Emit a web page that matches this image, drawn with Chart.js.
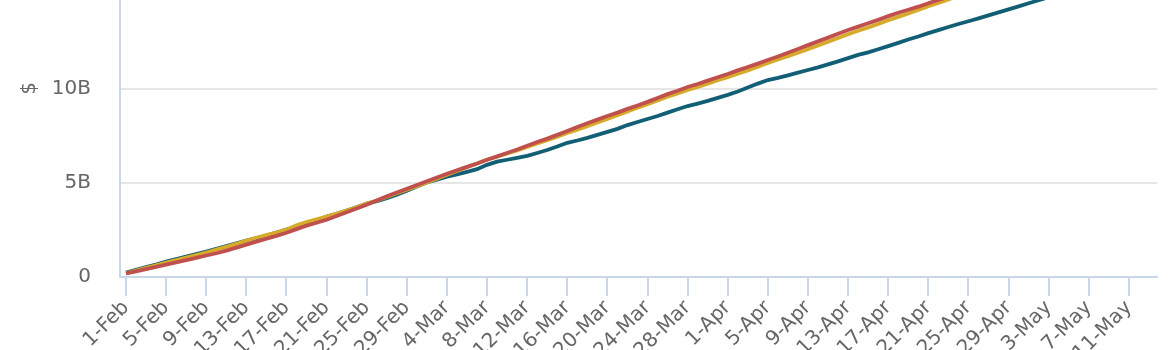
<!DOCTYPE html>
<html>
<head>
<meta charset="utf-8">
<script src="https://cdn.jsdelivr.net/npm/chart.js@4/dist/chart.umd.min.js"></script>
<style>
  html, body { margin: 0; padding: 0; background: #fff; overflow: hidden; }
  #wrap { position: absolute; left: 0; top: -141px; width: 1170px; height: 498px; }
</style>
</head>
<body>
<div id="wrap"><canvas id="chart"></canvas></div>
<script>
// date labels, 1-Feb to 14-May
const months = ['Feb', 'Mar', 'Apr', 'May'];
const monthDays = [29, 31, 30, 14];
const labels = [];
months.forEach((m, k) => {
    for (let d = 1; d <= monthDays[k]; d++) labels.push(d + '-' + m);
});

// cumulative values, billions of $
const redSeries = [0.19, 0.30, 0.42, 0.54, 0.66, 0.78, 0.90, 1.02, 1.14, 1.26, 1.40, 1.56, 1.72, 1.88, 2.03, 2.18, 2.35, 2.54, 2.72, 2.88,
    3.04, 3.24, 3.44, 3.63, 3.83, 4.06, 4.28, 4.48, 4.68, 4.88, 5.08, 5.28, 5.48, 5.66, 5.84, 6.02, 6.22, 6.40, 6.58, 6.76,
    6.96, 7.16, 7.34, 7.54, 7.75, 7.96, 8.16, 8.35, 8.54, 8.72, 8.92, 9.10, 9.29, 9.50, 9.70, 9.88, 10.08, 10.24, 10.42, 10.60,
    10.77, 10.96, 11.14, 11.32, 11.51, 11.70, 11.90, 12.10, 12.30, 12.50, 12.70, 12.90, 13.10, 13.28, 13.46, 13.64, 13.84, 14.02, 14.18, 14.34,
    14.52, 14.70, 14.86, 15.02, 15.20, 15.38, 15.56];
const yellowSeries = [0.19, 0.34, 0.48, 0.62, 0.77, 0.90, 1.03, 1.16, 1.30, 1.45, 1.60, 1.76, 1.93, 2.08, 2.22, 2.36, 2.51, 2.74, 2.92, 3.06,
    3.20, 3.36, 3.52, 3.70, 3.89, 4.06, 4.24, 4.44, 4.63, 4.82, 5.02, 5.22, 5.42, 5.62, 5.82, 6.02, 6.22, 6.38, 6.56, 6.72,
    6.90, 7.08, 7.26, 7.44, 7.64, 7.82, 8.00, 8.20, 8.38, 8.58, 8.78, 8.98, 9.17, 9.36, 9.56, 9.74, 9.92, 10.08, 10.26, 10.44,
    10.60, 10.78, 10.96, 11.16, 11.35, 11.54, 11.72, 11.90, 12.09, 12.28, 12.48, 12.68, 12.88, 13.06, 13.24, 13.42, 13.62, 13.80, 13.98, 14.16,
    14.36, 14.54, 14.72, 14.92, 15.10, 15.28, 15.46];
const tealSeries = [0.24, 0.38, 0.52, 0.66, 0.82, 0.95, 1.08, 1.22, 1.35, 1.50, 1.64, 1.78, 1.93, 2.06, 2.20, 2.35, 2.51, 2.68, 2.84, 3.00,
    3.20, 3.35, 3.52, 3.70, 3.89, 4.02, 4.18, 4.36, 4.58, 4.80, 5.02, 5.16, 5.32, 5.44, 5.58, 5.72, 5.95, 6.12, 6.22, 6.32,
    6.43, 6.58, 6.74, 6.92, 7.12, 7.24, 7.38, 7.54, 7.70, 7.86, 8.06, 8.22, 8.38, 8.54, 8.72, 8.90, 9.07, 9.20, 9.34, 9.50,
    9.66, 9.84, 10.05, 10.26, 10.45, 10.56, 10.70, 10.84, 10.98, 11.12, 11.28, 11.44, 11.61, 11.78, 11.92, 12.08, 12.25, 12.42, 12.60, 12.76,
    12.94, 13.10, 13.26, 13.42, 13.57, 13.72, 13.88, 14.04, 14.20, 14.36, 14.52, 14.68, 14.84, 15.00];

const yTicks = [0, 5, 10, 15, 20];

const axisColor = '#ccd6eb';
const textColor = '#666666';
const font = { family: 'DejaVu Sans', size: 20 };

// day index -> point, so the x axis can carry a little padding on both ends
const toPoints = (arr) => arr.map((v, i) => ({ x: i, y: v }));

new Chart(document.getElementById('chart'), {
    type: 'line',
    data: {
        datasets: [
            { data: toPoints(redSeries), borderColor: '#c0504d', borderWidth: 3.8, pointRadius: 0, fill: false },
            { data: toPoints(yellowSeries), borderColor: '#d8aa2a', borderWidth: 3.8, pointRadius: 0, fill: false },
            { data: toPoints(tealSeries), borderColor: '#125e75', borderWidth: 3.8, pointRadius: 0, fill: false }
        ]
    },
    options: {
        responsive: true,
        maintainAspectRatio: false,
        animation: false,
        layout: { padding: { top: 19, right: 13, left: 0, bottom: 0 } },
        plugins: { legend: { display: false }, tooltip: { enabled: false } },
        scales: {
            x: {
                type: 'linear',
                min: -0.6,
                max: 102.8,
                afterFit: (scale) => { scale.height = 80; },
                afterBuildTicks: (scale) => {
                    const t = [];
                    for (let i = 0; i < labels.length; i += 4) t.push({ value: i });
                    scale.ticks = t;
                },
                border: { display: true, color: axisColor, width: 2 },
                grid: {
                    drawOnChartArea: false,
                    drawTicks: true,
                    tickLength: 19,
                    lineWidth: 2,
                    color: axisColor
                },
                ticks: {
                    autoSkip: false,
                    minRotation: 45,
                    maxRotation: 45,
                    padding: 0,
                    color: textColor,
                    font: font,
                    callback: (v) => labels[v]
                }
            },
            y: {
                min: yTicks[0],
                max: yTicks[yTicks.length - 1],
                afterFit: (scale) => { scale.width = 120; },
                afterBuildTicks: (scale) => { scale.ticks = yTicks.map(v => ({ value: v })); },
                border: { display: true, color: axisColor, width: 2 },
                grid: { drawTicks: false, color: '#e6e6e6', lineWidth: 2 },
                ticks: {
                    padding: 29,
                    color: textColor,
                    font: font,
                    callback: (v) => v === 0 ? '0' : v + 'B'
                },
                title: {
                    display: true,
                    text: '$',
                    color: textColor,
                    font: font,
                    padding: { top: 18, bottom: 0 }
                }
            }
        }
    }
});
</script>
</body>
</html>
